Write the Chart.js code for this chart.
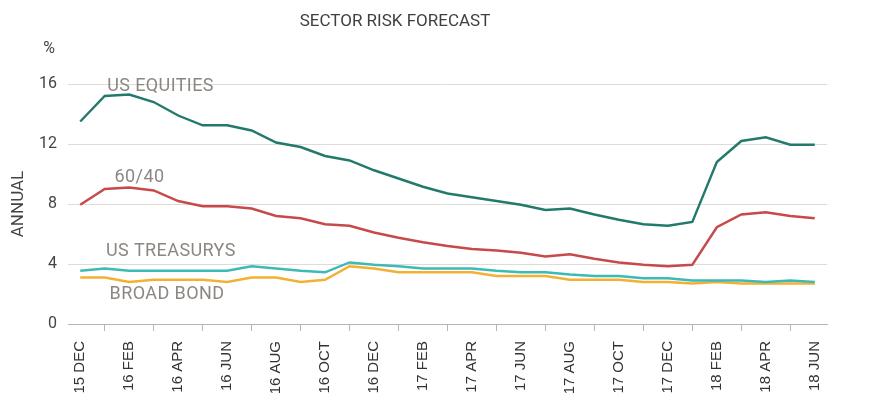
<!DOCTYPE html>
<html>
<head>
<meta charset="utf-8">
<script src="https://cdn.jsdelivr.net/npm/chart.js@4"></script>
<style>
  body { margin: 0; background: #fff; }
  #wrap { width: 871px; height: 415px; }
</style>
</head>
<body>
<div id="wrap"><canvas id="myChart" width="871" height="415"></canvas></div>
<script>
var months = ["15 DEC", "16 JAN", "16 FEB", "16 MAR", "16 APR", "16 MAY", "16 JUN", "16 JUL",
  "16 AUG", "16 SEP", "16 OCT", "16 NOV", "16 DEC", "17 JAN", "17 FEB", "17 MAR", "17 APR",
  "17 MAY", "17 JUN", "17 JUL", "17 AUG", "17 SEP", "17 OCT", "17 NOV", "17 DEC", "18 JAN",
  "18 FEB", "18 MAR", "18 APR", "18 MAY", "18 JUN"];

var usEquities = [13.5, 15.2, 15.3, 14.8, 13.9, 13.25, 13.25, 12.9, 12.1, 11.8, 11.2, 10.9,
  10.25, 9.7, 9.15, 8.7, 8.45, 8.2, 7.95, 7.6, 7.7, 7.3, 6.95, 6.65, 6.55, 6.8, 10.8, 12.2,
  12.45, 11.95, 11.95];

var sixtyForty = [7.95, 9.0, 9.1, 8.9, 8.2, 7.85, 7.85, 7.7, 7.2, 7.05, 6.65, 6.55, 6.1, 5.75,
  5.45, 5.2, 5.0, 4.9, 4.75, 4.5, 4.65, 4.35, 4.1, 3.95, 3.85, 3.95, 6.45, 7.3, 7.45, 7.2, 7.05];

var usTreasurys = [3.55, 3.7, 3.55, 3.55, 3.55, 3.55, 3.55, 3.85, 3.7, 3.55, 3.45, 4.1, 3.95,
  3.85, 3.7, 3.7, 3.7, 3.55, 3.45, 3.45, 3.3, 3.2, 3.2, 3.05, 3.05, 2.9, 2.9, 2.9, 2.8, 2.9, 2.8];

var broadBond = [3.1, 3.1, 2.8, 2.95, 2.95, 2.95, 2.8, 3.1, 3.1, 2.8, 2.95, 3.85, 3.7, 3.45,
  3.45, 3.45, 3.45, 3.2, 3.2, 3.2, 2.95, 2.95, 2.95, 2.8, 2.8, 2.7, 2.8, 2.7, 2.7, 2.7, 2.7];

// series name labels placed at [category index, value]
var seriesNames = [
  ["US EQUITIES", 1.1, 15.85],
  ["60/40", 1.4, 9.75],
  ["US TREASURYS", 1.05, 4.85],
  ["BROAD BOND", 1.2, 2.0]
];

var textFont = "Roboto, 'Liberation Sans', sans-serif";

var lineLabels = {
  id: 'lineLabels',
  afterDatasetsDraw: function (chart) {
    var ctx = chart.ctx;
    var x = chart.scales.x, y = chart.scales.y;
    ctx.save();
    ctx.font = "18px " + textFont;
    ctx.letterSpacing = '0.4px';
    ctx.fillStyle = '#8c8782';
    ctx.textBaseline = 'middle';
    ctx.textAlign = 'left';
    seriesNames.forEach(function (s) {
      ctx.fillText(s[0], x.getPixelForValue(s[1]), y.getPixelForValue(s[2]));
    });
    ctx.letterSpacing = '0px';
    // unit above the y axis
    ctx.font = "16px " + textFont;
    ctx.fillStyle = '#444';
    ctx.textAlign = 'right';
    ctx.fillText('%', y.right - 13, y.top - 35);
    // title
    ctx.font = "17px " + textFont;
    ctx.textAlign = 'center';
    ctx.fillStyle = '#3f3f3f';
    ctx.fillText('SECTOR RISK FORECAST', 395, 22);
    ctx.restore();
  }
};

var chart = new Chart(document.getElementById('myChart'), {
  type: 'line',
  data: {
    labels: months,
    datasets: [
      { label: "US EQUITIES", data: usEquities, borderColor: '#23796b' },
      { label: "60/40", data: sixtyForty, borderColor: '#c7494b' },
      { label: "US TREASURYS", data: usTreasurys, borderColor: '#3dbab5' },
      { label: "BROAD BOND", data: broadBond, borderColor: '#f2b133' }
    ]
  },
  options: {
    responsive: false,
    animation: false,
    elements: {
      point: { radius: 0 },
      line: { borderWidth: 2.4, tension: 0 }
    },
    layout: { padding: { left: 0, right: 44, top: 84, bottom: 0 } },
    plugins: {
      legend: { display: false },
      tooltip: { enabled: false },
      title: { display: false }
    },
    scales: {
      x: {
        offset: true,
        afterFit: function (scale) { scale.height = 91; },
        grid: { offset: true, drawOnChartArea: false, drawTicks: true, tickLength: 7, color: '#b5b5b5' },
        border: { color: '#b5b5b5' },
        ticks: {
          autoSkip: false,
          maxRotation: 90,
          minRotation: 90,
          padding: 10,
          color: '#333',
          font: { family: "'Liberation Sans', Arial, sans-serif", size: 15 },
          callback: function (v, i) { return i % 2 === 0 ? months[i] : null; }
        }
      },
      y: {
        min: 0,
        max: 16,
        afterFit: function (scale) { scale.width = 68; },
        border: { display: false },
        grid: { color: '#dedad6', drawTicks: false },
        ticks: {
          stepSize: 4,
          padding: 11,
          color: '#444',
          font: { family: textFont, size: 16 }
        },
        title: {
          display: true,
          text: 'ANNUAL',
          color: '#444',
          font: { family: textFont, size: 17 },
          padding: { top: 9, bottom: 0 }
        }
      }
    }
  },
  plugins: [lineLabels]
});
</script>
</body>
</html>
